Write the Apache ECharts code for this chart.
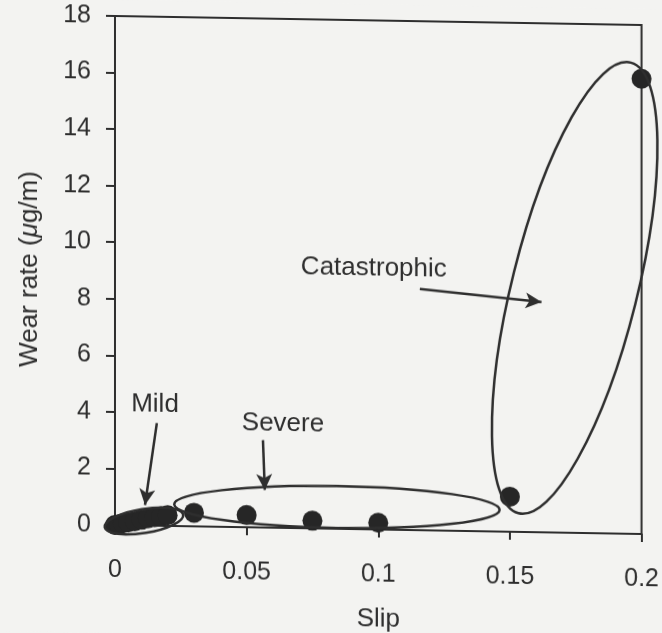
<!DOCTYPE html>
<html>
<head>
<meta charset="utf-8">
<title>Wear rate vs slip</title>
<script src="https://cdn.jsdelivr.net/npm/echarts@6/dist/echarts.min.js"></script>
<style>
  html, body { margin: 0; padding: 0; background: #f3f3f1; }
  #chart {
    width: 662px; height: 633px;
    /* the printed figure runs slightly downhill to the right */
    transform: skewY(0.98deg);
    transform-origin: 115px 0;
  }
</style>
</head>
<body>
<div id="chart"></div>
<script>
// Measured points: slip ratio vs wear rate (µg/m)
const slip = [0, 0.0015, 0.003, 0.005, 0.0075, 0.01, 0.0125, 0.015, 0.0175, 0.02,
              0.03, 0.05, 0.075, 0.1, 0.15, 0.2];
const wear = [0.0, 0.03, 0.06, 0.1, 0.14, 0.2, 0.26, 0.3, 0.34, 0.38,
              0.48, 0.43, 0.27, 0.24, 1.24, 16.1];

const xTickLabels = ['0', '0.05', '0.1', '0.15', '0.2'];
const yTickLabels = ['0', '2', '4', '6', '8', '10', '12', '14', '16', '18'];

// Wear regimes, in data coordinates: centre, tip of the long axis, short/long ratio
const regimeNames = ['Mild', 'Severe', 'Catastrophic'];
const regimeCentres = [[0.011, 0.16], [0.0843, 0.77], [0.1746, 8.66]];
const regimeAxisTips = [[0.0259, 0.41], [0.1461, 0.77], [0.196, 16.66]];
const regimeRatios = [0.3, 0.129, 0.268];
const labelAnchors = [[0.0152, 4.3], [0.0638, 3.68], [0.0983, 9.22]];
const arrowStarts = [[0.0159, 3.63], [0.0562, 3.09], [0.1158, 8.53]];
const arrowEnds = [[0.0114, 0.725], [0.0569, 1.33], [0.162, 8.14]];

const FONT = '"Liberation Sans", Arial, Helvetica, sans-serif';
const INK = '#2e2e2e';

const chart = echarts.init(document.getElementById('chart'), null, { renderer: 'canvas' });

const option = {
  animation: false,
  backgroundColor: '#f3f3f1',
  grid: {
    left: 115, top: 16, right: 20, bottom: 108,
    show: true, borderColor: INK, borderWidth: 2, backgroundColor: 'transparent'
  },
  xAxis: {
    type: 'value', min: 0, max: 0.2, interval: 0.05,
    name: 'Slip', nameLocation: 'middle', nameGap: 77,
    nameTextStyle: { fontFamily: FONT, fontSize: 26, color: INK },
    axisLine: { lineStyle: { color: INK, width: 2 } },
    axisTick: { show: true, inside: false, length: 8, lineStyle: { color: INK, width: 2 } },
    axisLabel: {
      margin: 33, fontFamily: FONT, fontSize: 25, color: INK,
      formatter: (v) => xTickLabels[Math.round(v / 0.05)] ?? ''
    },
    splitLine: { show: false }
  },
  yAxis: {
    type: 'value', min: 0, max: 18, interval: 2,
    name: 'Wear rate ({mu|μ}g/m)', nameLocation: 'middle', nameGap: 72, nameRotate: 90,
    nameTextStyle: {
      fontFamily: FONT, fontSize: 26, color: INK,
      rich: { mu: { fontFamily: FONT, fontSize: 26, color: INK, fontStyle: 'italic' } }
    },
    axisLine: { lineStyle: { color: INK, width: 2 } },
    axisTick: { show: true, inside: false, length: 9, lineStyle: { color: INK, width: 2 } },
    axisLabel: {
      margin: 24, fontFamily: FONT, fontSize: 25, color: INK,
      formatter: (v) => yTickLabels[Math.round(v / 2)] ?? ''
    },
    splitLine: { show: false }
  },
  series: [{
    type: 'scatter',
    clip: false,
    symbol: 'circle',
    symbolSize: 20,
    itemStyle: { color: '#262626', opacity: 1 },
    data: slip.map((s, i) => [s, wear[i]]),
    markLine: {
      silent: true,
      symbol: ['none', 'arrow'],
      symbolSize: [12, 16],
      label: { show: false },
      lineStyle: { color: INK, width: 2.5, type: 'solid' },
      data: arrowStarts.map((p, i) => [{ coord: p }, { coord: arrowEnds[i] }])
    }
  }]
};
chart.setOption(option);

// Regime outlines and captions, placed through the axes' own scales
function px(p) { return chart.convertToPixel({ gridIndex: 0 }, p); }

const graphics = [];
regimeNames.forEach((name, i) => {
  const c = px(regimeCentres[i]);
  const t = px(regimeAxisTips[i]);
  const dx = t[0] - c[0], dy = t[1] - c[1];
  const a = Math.hypot(dx, dy);
  graphics.push({
    type: 'ellipse',
    x: c[0], y: c[1],
    rotation: -Math.atan2(dy, dx),
    shape: { cx: 0, cy: 0, rx: a, ry: a * regimeRatios[i] },
    style: { fill: 'none', stroke: INK, lineWidth: 2.5 },
    silent: true, z: 10
  });
  const l = px(labelAnchors[i]);
  graphics.push({
    type: 'text',
    x: l[0], y: l[1],
    style: {
      text: name, fontFamily: FONT, fontSize: 26, fill: INK,
      align: 'center', verticalAlign: 'middle'
    },
    silent: true, z: 10
  });
});
chart.setOption({ graphic: graphics });
</script>
</body>
</html>
